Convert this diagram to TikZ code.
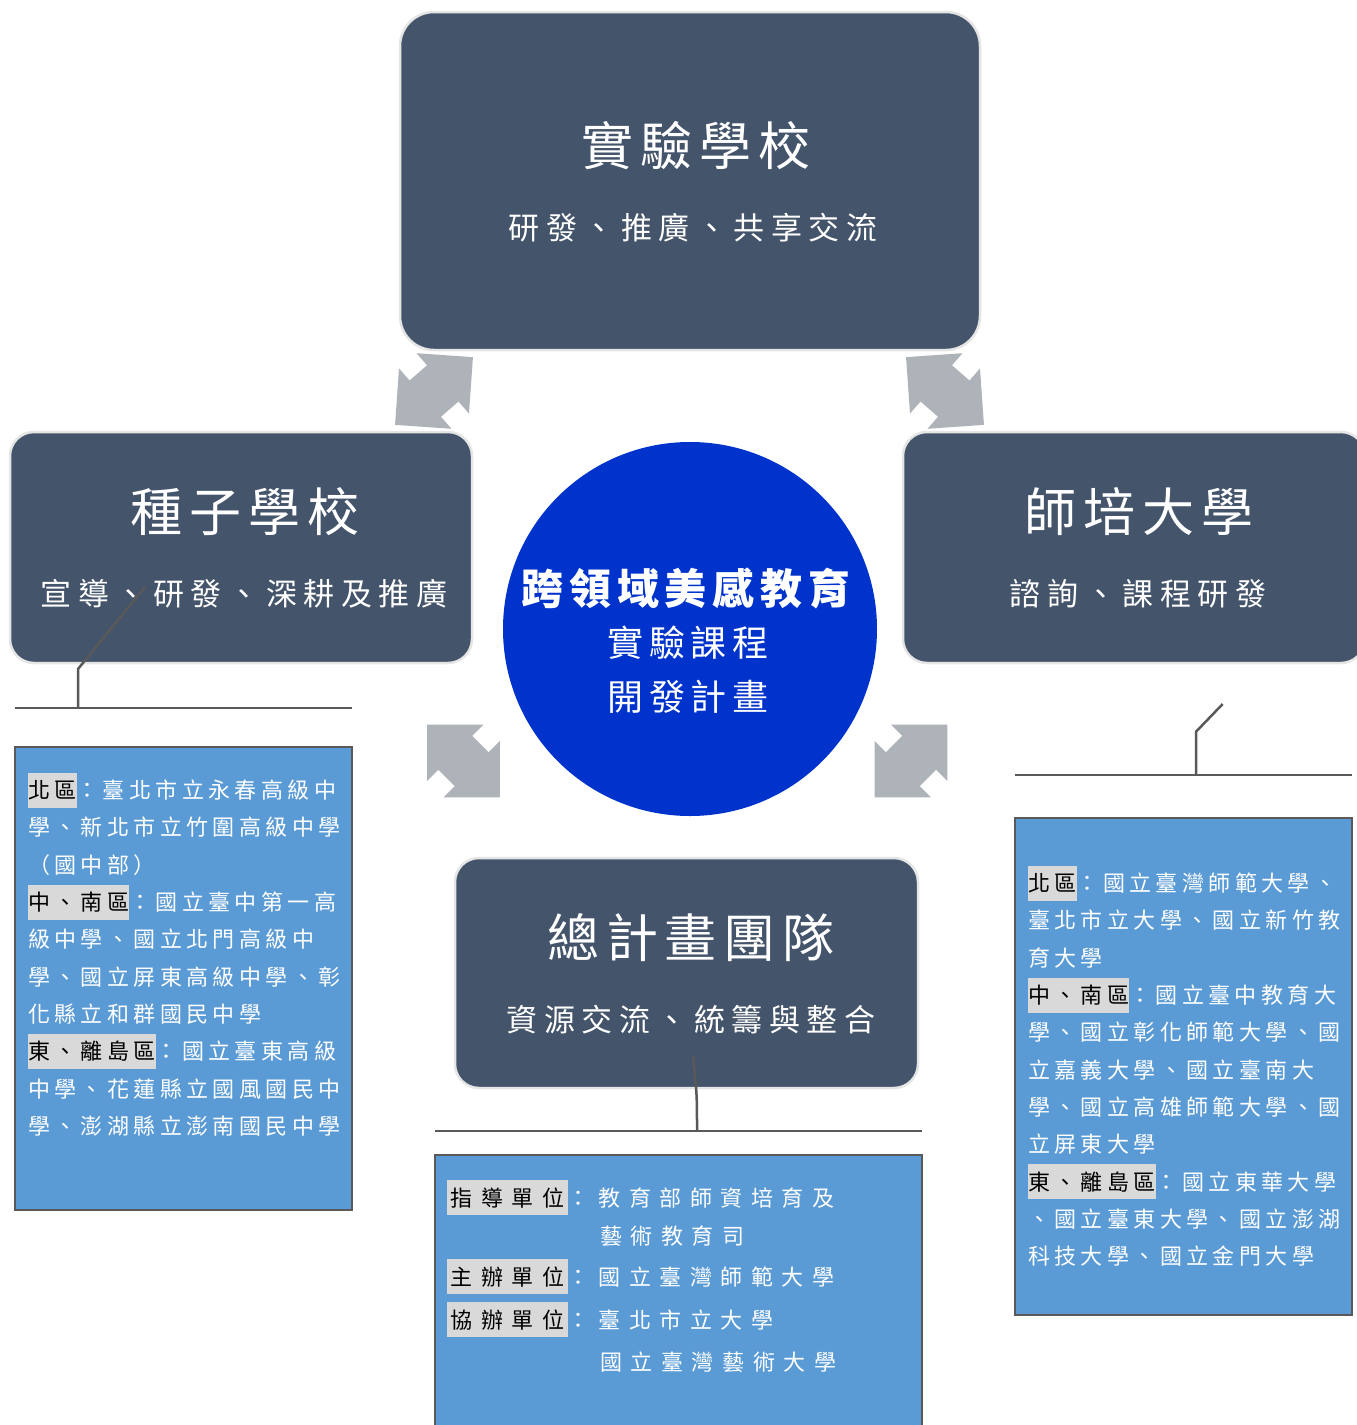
\documentclass[tikz,border=0pt]{standalone}
\usepackage{fontspec}
\newfontfamily\cjk{Noto Sans CJK TC}
\usetikzlibrary{positioning,calc}

\definecolor{boxslate}{HTML}{44546A}
\definecolor{listblue}{HTML}{5B9BD5}
\definecolor{corefill}{HTML}{0033CC}
\definecolor{arrowgray}{HTML}{AEB2B9}
\definecolor{linegray}{HTML}{595959}
\definecolor{hlgray}{HTML}{D9D9D9}

% grey label behind a region name
\newcommand\hl[2][0pt]{{\setlength{\fboxsep}{0pt}\colorbox{hlgray}{\kern#1\rule[-9pt]{0pt}{35pt}\color{black}#2\kern#1}}}

\tikzset{
  darkbox/.style={draw=gray!20, line width=2.5pt, fill=boxslate, rounded corners=24pt, inner sep=0pt},
  listbox/.style={draw=linegray, line width=2.5pt, fill=listblue, inner sep=0pt},
  boxtitle/.style={text=white, inner sep=0pt, font=\cjk\fontsize{52}{60}\selectfont\addfontfeature{LetterSpace=13}},
  boxsub/.style={text=white, inner sep=0pt, font=\cjk\fontsize{31}{37}\selectfont\addfontfeature{LetterSpace=21}},
  coretitle/.style={text=white, inner sep=0pt, font=\cjk\bfseries\fontsize{42}{50}\selectfont\addfontfeature{LetterSpace=14}},
  coresub/.style={text=white, inner sep=0pt, font=\cjk\fontsize{36}{44}\selectfont\addfontfeature{LetterSpace=15}},
  listtext/.style={text=white, inner sep=0pt, align=left, anchor=north west, font=\cjk\fontsize{22}{37.3}\selectfont\addfontfeature{LetterSpace=20}},
  hqtext/.style={text=white, inner sep=0pt, anchor=base west, font=\cjk\fontsize{22}{30}\selectfont\addfontfeature{LetterSpace=39}},
  conn/.style={draw=linegray, line width=2.5pt},
  dblarrow/.pic={
    \fill[arrowgray] (51.6,0) -- (11.6,40) -- (11.6,24) -- (-11.6,24) -- (-11.6,40)
      -- (-51.6,0) -- (-11.6,-40) -- (-11.6,-24) -- (11.6,-24) -- (11.6,-40) -- cycle;
  }
}

\begin{document}
\begin{tikzpicture}[x=1pt, y=-1pt]
\useasboundingbox (0,0) rectangle (1357,1425);
\clip (0,0) rectangle (1357,1425);

% the four teams
\node[darkbox, rounded corners=34pt, minimum width=580pt, minimum height=338pt] (lab) at (690,181) {};
\node[darkbox, minimum width=462pt, minimum height=231pt] (seed) at (241,547.5) {};
\node[darkbox, minimum width=462pt, minimum height=231pt] (teach) at (1134,547.5) {};
\node[darkbox, minimum width=463pt, minimum height=230pt] (hq) at (686.5,973) {};

\node[boxtitle] (labtitle) at (696,146) {實驗學校};
\node[boxsub] (labsub) at (693,228) {研發、推廣、共享交流};
\node[boxtitle] (seedtitle) at (245,512) {種子學校};
\node[boxsub] (seedsub) at (244,594) {宣導、研發、深耕及推廣};
\node[boxtitle] (teachtitle) at (1139,512) {師培大學};
\node[boxsub] (teachsub) at (1138,594) {諮詢、課程研發};
\node[boxtitle] (hqtitle) at (691,938) {總計畫團隊};
\node[boxsub] (hqsub) at (691,1020) {資源交流、統籌與整合};

% centre
\node[circle, fill=corefill, minimum size=374pt, inner sep=0pt] (core) at (690,629) {};
\node[coretitle] (coretop) at (686,588) {跨領域美感教育};
\node[coresub] (coremid) at (688,643) {實驗課程};
\node[coresub] (corebot) at (688,697) {開發計畫};

% two-way arrows
\pic[rotate=41] at (434,391) {dblarrow};
\pic[rotate=-41] at (945,391) {dblarrow};
\pic[rotate=-45] at (463.5,761) {dblarrow};
\pic[rotate=45] at (911,761) {dblarrow};

% member lists
\node[listbox, minimum width=337pt, minimum height=463pt] (seedbox) at (183.5,978.5) {};
\node[listbox, minimum width=337pt, minimum height=497pt] (teachbox) at (1183.5,1066.5) {};
\node[listbox, minimum width=487pt, minimum height=290pt] (hqbox) at (678.5,1300) {};

\node[listtext] (seedtext) at (28,772.4) {\hl{北區}：臺北市立永春高級中\\
學、新北市立竹圍高級中學\\
（國中部）\\
\hl{中、南區}：國立臺中第一高\\
級中學、國立北門高級中\\
學、國立屏東高級中學、彰\\
化縣立和群國民中學\\
\hl{東、離島區}：國立臺東高級\\
中學、花蓮縣立國風國民中\\
學、澎湖縣立澎南國民中學};

\node[listtext] (teachtext) at (1028,865.4) {\hl{北區}：國立臺灣師範大學、\\
臺北市立大學、國立新竹教\\
育大學\\
\hl{中、南區}：國立臺中教育大\\
學、國立彰化師範大學、國\\
立嘉義大學、國立臺南大\\
學、國立高雄師範大學、國\\
立屏東大學\\
\hl{東、離島區}：國立東華大學\\
、國立臺東大學、國立澎湖\\
科技大學、國立金門大學};

\node[hqtext] (guide) at (447,1206.4) {\hl[3.5pt]{指導單位}：教育部師資培育及};
\node[hqtext] (guidecont) at (600,1244.4) {藝術教育司};
\node[hqtext] (host) at (447,1285.4) {\hl[3.5pt]{主辦單位}：國立臺灣師範大學};
\node[hqtext] (cohost) at (447,1328.4) {\hl[3.5pt]{協辦單位}：臺北市立大學};
\node[hqtext] (cohostcont) at (600,1370.4) {國立臺灣藝術大學};

% brackets
\coordinate (seedtip) at (145,587);
\coordinate (seedbend) at (78,669);
\coordinate (seedjoin) at (78,708);
\coordinate (seedbarL) at (15,708);
\coordinate (seedbarR) at (352,708);
\draw[conn] (seedtip) -- (seedbend) -- (seedjoin);
\draw[conn] (seedbarL) -- (seedbarR);

\coordinate (teachtip) at (1222.7,704);
\coordinate (teachbend) at (1196,731.7);
\coordinate (teachjoin) at (1196,775);
\coordinate (teachbarL) at (1015,775);
\coordinate (teachbarR) at (1352,775);
\draw[conn] (teachtip) -- (teachbend) -- (teachjoin);
\draw[conn] (teachbarL) -- (teachbarR);

\coordinate (hqtip) at (693,1056);
\coordinate (hqjoin) at (697,1131);
\coordinate (hqbarL) at (435,1131);
\coordinate (hqbarR) at (922,1131);
\draw[conn] (hqtip) .. controls (697,1095) .. (hqjoin);
\draw[conn] (hqbarL) -- (hqbarR);

\end{tikzpicture}
\end{document}
